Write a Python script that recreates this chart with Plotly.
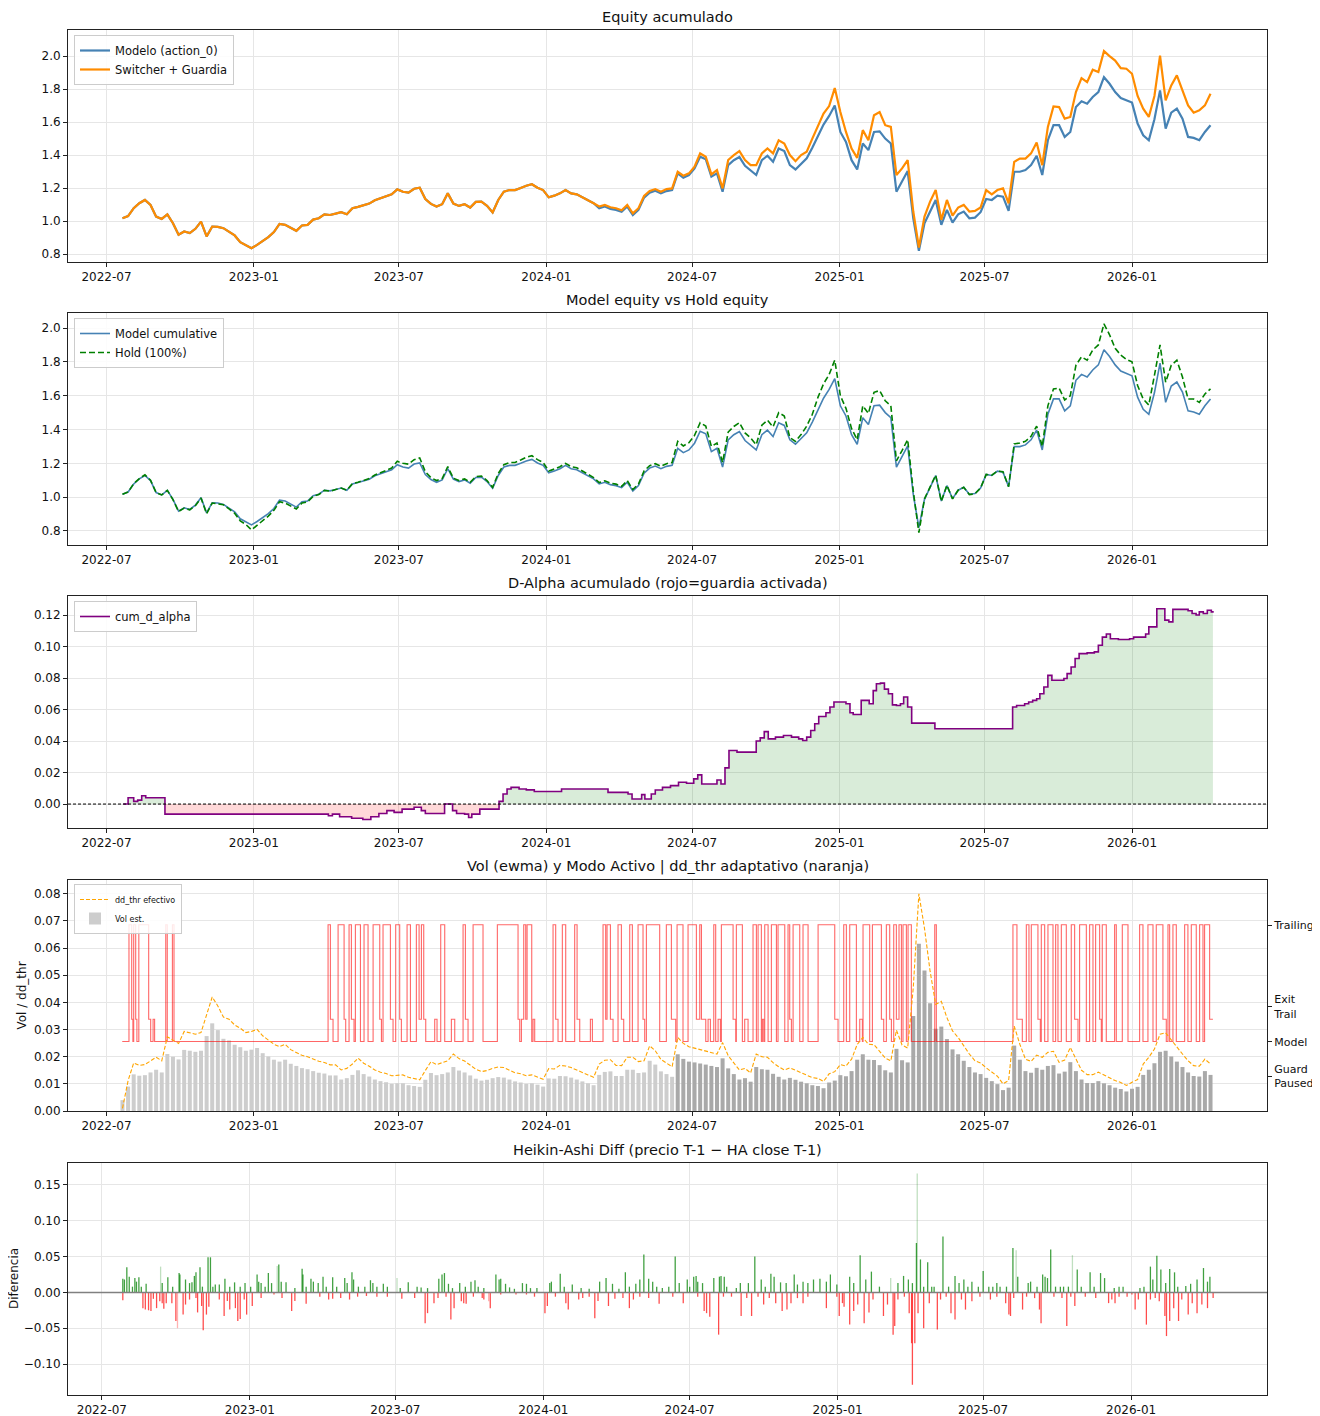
import pandas as pd
import plotly.graph_objects as go

# ---------------- DATA ----------------
EQ_START = "2022-07-21"   # weekly samples
model_eq = [
    1.017, 1.030, 1.078, 1.108, 1.128, 1.098, 1.027, 1.013, 1.040, 0.987,
    0.917, 0.937, 0.927, 0.953, 0.997, 0.907, 0.967, 0.965, 0.957, 0.937,
    0.913, 0.872, 0.856, 0.836, 0.856, 0.880, 0.903, 0.933, 0.983, 0.977,
    0.957, 0.941, 0.973, 0.977, 1.009, 1.017, 1.041, 1.037, 1.045, 1.054,
    1.041, 1.078, 1.086, 1.094, 1.106, 1.126, 1.138, 1.152, 1.162, 1.192,
    1.178, 1.172, 1.196, 1.202, 1.134, 1.104, 1.088, 1.102, 1.168, 1.106,
    1.092, 1.102, 1.082, 1.116, 1.118, 1.092, 1.052, 1.128, 1.178, 1.188,
    1.188, 1.200, 1.214, 1.223, 1.202, 1.188, 1.144, 1.154, 1.168, 1.188,
    1.168, 1.162, 1.144, 1.130, 1.108, 1.078, 1.088, 1.074, 1.068, 1.056,
    1.088, 1.037, 1.068, 1.142, 1.172, 1.184, 1.168, 1.182, 1.188, 1.289,
    1.263, 1.279, 1.319, 1.390, 1.375, 1.269, 1.289, 1.178, 1.339, 1.369,
    1.388, 1.335, 1.309, 1.279, 1.369, 1.396, 1.359, 1.440, 1.424, 1.339,
    1.313, 1.349, 1.380, 1.444, 1.514, 1.585, 1.637, 1.701, 1.540, 1.480,
    1.369, 1.313, 1.470, 1.430, 1.540, 1.544, 1.500, 1.470, 1.178, 1.239,
    1.303, 1.017, 0.820, 0.987, 1.058, 1.128, 0.977, 1.068, 0.991, 1.041,
    1.058, 1.017, 1.021, 1.054, 1.134, 1.128, 1.154, 1.148, 1.062, 1.299,
    1.299, 1.309, 1.339, 1.396, 1.279, 1.490, 1.581, 1.581, 1.510, 1.540,
    1.691, 1.726, 1.711, 1.752, 1.782, 1.872, 1.832, 1.782, 1.746, 1.732,
    1.718, 1.591, 1.520, 1.490, 1.617, 1.792, 1.561, 1.657, 1.681, 1.621,
    1.510, 1.504, 1.490, 1.540, 1.581,
]
switcher_eq = [
    1.017, 1.030, 1.078, 1.108, 1.128, 1.098, 1.027, 1.013, 1.040, 0.987,
    0.917, 0.937, 0.927, 0.953, 0.997, 0.907, 0.967, 0.965, 0.957, 0.937,
    0.913, 0.872, 0.856, 0.836, 0.856, 0.880, 0.903, 0.933, 0.983, 0.977,
    0.957, 0.941, 0.973, 0.977, 1.009, 1.017, 1.041, 1.037, 1.045, 1.054,
    1.041, 1.078, 1.086, 1.094, 1.106, 1.126, 1.138, 1.152, 1.162, 1.192,
    1.178, 1.172, 1.196, 1.202, 1.134, 1.104, 1.088, 1.102, 1.168, 1.106,
    1.092, 1.102, 1.082, 1.116, 1.118, 1.092, 1.052, 1.128, 1.178, 1.188,
    1.188, 1.200, 1.214, 1.223, 1.202, 1.188, 1.144, 1.154, 1.168, 1.188,
    1.168, 1.162, 1.144, 1.130, 1.108, 1.088, 1.098, 1.084, 1.078, 1.066,
    1.098, 1.047, 1.078, 1.152, 1.182, 1.194, 1.178, 1.194, 1.198, 1.299,
    1.275, 1.289, 1.329, 1.410, 1.390, 1.283, 1.309, 1.198, 1.370, 1.400,
    1.424, 1.370, 1.339, 1.339, 1.410, 1.440, 1.410, 1.490, 1.470, 1.400,
    1.363, 1.400, 1.420, 1.500, 1.575, 1.651, 1.697, 1.806, 1.661, 1.540,
    1.440, 1.383, 1.551, 1.490, 1.641, 1.661, 1.581, 1.571, 1.279, 1.319,
    1.369, 1.058, 0.840, 1.027, 1.118, 1.188, 1.007, 1.128, 1.033, 1.082,
    1.098, 1.058, 1.062, 1.082, 1.188, 1.162, 1.188, 1.198, 1.108, 1.359,
    1.379, 1.379, 1.410, 1.476, 1.339, 1.571, 1.695, 1.691, 1.621, 1.631,
    1.782, 1.866, 1.842, 1.917, 1.903, 2.030, 2.000, 1.973, 1.927, 1.923,
    1.893, 1.758, 1.681, 1.631, 1.758, 2.003, 1.732, 1.822, 1.883, 1.792,
    1.701, 1.657, 1.671, 1.701, 1.772,
]
hold_eq = [
    1.017, 1.030, 1.080, 1.110, 1.132, 1.100, 1.027, 1.013, 1.040, 0.985,
    0.915, 0.935, 0.925, 0.950, 0.995, 0.902, 0.965, 0.962, 0.955, 0.930,
    0.905, 0.860, 0.838, 0.806, 0.832, 0.860, 0.888, 0.922, 0.973, 0.965,
    0.945, 0.930, 0.965, 0.972, 1.005, 1.015, 1.040, 1.035, 1.045, 1.054,
    1.041, 1.080, 1.088, 1.097, 1.110, 1.131, 1.145, 1.160, 1.172, 1.212,
    1.200, 1.195, 1.222, 1.232, 1.150, 1.115, 1.098, 1.110, 1.180, 1.112,
    1.098, 1.108, 1.088, 1.122, 1.125, 1.098, 1.058, 1.140, 1.192, 1.205,
    1.205, 1.220, 1.236, 1.245, 1.222, 1.205, 1.155, 1.166, 1.180, 1.200,
    1.180, 1.174, 1.155, 1.140, 1.116, 1.086, 1.097, 1.083, 1.077, 1.064,
    1.098, 1.045, 1.078, 1.155, 1.186, 1.198, 1.183, 1.198, 1.205, 1.330,
    1.303, 1.322, 1.365, 1.440, 1.420, 1.300, 1.320, 1.205, 1.385, 1.418,
    1.440, 1.380, 1.350, 1.310, 1.425, 1.455, 1.415, 1.500, 1.480, 1.352,
    1.330, 1.370, 1.420, 1.490, 1.590, 1.670, 1.725, 1.810, 1.600, 1.525,
    1.405, 1.340, 1.540, 1.495, 1.620, 1.630, 1.570, 1.540, 1.215, 1.275,
    1.340, 1.035, 0.790, 0.990, 1.060, 1.130, 0.975, 1.070, 0.990, 1.041,
    1.058, 1.015, 1.020, 1.054, 1.134, 1.130, 1.154, 1.150, 1.062, 1.315,
    1.320, 1.330, 1.360, 1.420, 1.300, 1.540, 1.640, 1.645, 1.575, 1.600,
    1.780, 1.830, 1.810, 1.870, 1.900, 2.025, 1.960, 1.880, 1.840, 1.815,
    1.800, 1.660, 1.580, 1.545, 1.720, 1.900, 1.680, 1.780, 1.810, 1.710,
    1.580, 1.580, 1.560, 1.610, 1.640,
]
dd_thr = [
    0.0010, 0.0112, 0.0177, 0.0168, 0.0171, 0.0185, 0.0198, 0.0185, 0.0273, 0.0261,
    0.0249, 0.0293, 0.0289, 0.0283, 0.0289, 0.0359, 0.0420, 0.0387, 0.0346, 0.0338,
    0.0317, 0.0305, 0.0289, 0.0293, 0.0301, 0.0277, 0.0261, 0.0246, 0.0237, 0.0246,
    0.0226, 0.0216, 0.0205, 0.0200, 0.0191, 0.0183, 0.0179, 0.0170, 0.0170, 0.0151,
    0.0157, 0.0173, 0.0195, 0.0176, 0.0165, 0.0151, 0.0143, 0.0138, 0.0130, 0.0132,
    0.0133, 0.0124, 0.0120, 0.0115, 0.0149, 0.0182, 0.0171, 0.0177, 0.0185, 0.0210,
    0.0193, 0.0184, 0.0170, 0.0154, 0.0145, 0.0149, 0.0157, 0.0162, 0.0160, 0.0150,
    0.0141, 0.0137, 0.0130, 0.0133, 0.0126, 0.0117, 0.0156, 0.0155, 0.0168, 0.0166,
    0.0160, 0.0150, 0.0141, 0.0133, 0.0124, 0.0173, 0.0187, 0.0189, 0.0168, 0.0167,
    0.0198, 0.0198, 0.0182, 0.0185, 0.0240, 0.0222, 0.0190, 0.0177, 0.0163, 0.0271,
    0.0249, 0.0237, 0.0232, 0.0227, 0.0222, 0.0216, 0.0210, 0.0252, 0.0204, 0.0177,
    0.0151, 0.0157, 0.0140, 0.0210, 0.0200, 0.0198, 0.0178, 0.0163, 0.0151, 0.0159,
    0.0149, 0.0140, 0.0132, 0.0123, 0.0120, 0.0109, 0.0137, 0.0145, 0.0171, 0.0166,
    0.0191, 0.0245, 0.0271, 0.0246, 0.0244, 0.0220, 0.0195, 0.0185, 0.0298, 0.0243,
    0.0232, 0.0454, 0.0800, 0.0673, 0.0515, 0.0393, 0.0404, 0.0344, 0.0295, 0.0271,
    0.0240, 0.0210, 0.0185, 0.0177, 0.0159, 0.0143, 0.0128, 0.0100, 0.0112, 0.0313,
    0.0246, 0.0191, 0.0183, 0.0206, 0.0198, 0.0216, 0.0220, 0.0179, 0.0188, 0.0234,
    0.0191, 0.0150, 0.0134, 0.0134, 0.0143, 0.0132, 0.0124, 0.0112, 0.0105, 0.0094,
    0.0106, 0.0116, 0.0173, 0.0198, 0.0228, 0.0283, 0.0288, 0.0261, 0.0237, 0.0210,
    0.0185, 0.0167, 0.0165, 0.0191, 0.0173,
]
vol_est = [
    0.0040, 0.0090, 0.0135, 0.0130, 0.0132, 0.0142, 0.0152, 0.0142, 0.0210, 0.0200,
    0.0190, 0.0225, 0.0222, 0.0218, 0.0222, 0.0276, 0.0323, 0.0298, 0.0266, 0.0260,
    0.0244, 0.0235, 0.0222, 0.0226, 0.0232, 0.0213, 0.0201, 0.0189, 0.0182, 0.0189,
    0.0174, 0.0166, 0.0158, 0.0154, 0.0147, 0.0141, 0.0138, 0.0131, 0.0131, 0.0116,
    0.0121, 0.0133, 0.0150, 0.0136, 0.0127, 0.0116, 0.0110, 0.0106, 0.0100, 0.0102,
    0.0102, 0.0095, 0.0092, 0.0089, 0.0115, 0.0140, 0.0132, 0.0136, 0.0142, 0.0162,
    0.0149, 0.0142, 0.0131, 0.0119, 0.0112, 0.0115, 0.0121, 0.0125, 0.0123, 0.0116,
    0.0109, 0.0105, 0.0100, 0.0102, 0.0097, 0.0090, 0.0120, 0.0119, 0.0129, 0.0128,
    0.0123, 0.0116, 0.0109, 0.0102, 0.0095, 0.0133, 0.0144, 0.0146, 0.0129, 0.0129,
    0.0152, 0.0152, 0.0140, 0.0142, 0.0185, 0.0171, 0.0146, 0.0136, 0.0126, 0.0209,
    0.0192, 0.0182, 0.0179, 0.0175, 0.0171, 0.0166, 0.0162, 0.0194, 0.0157, 0.0136,
    0.0116, 0.0121, 0.0108, 0.0162, 0.0154, 0.0152, 0.0137, 0.0126, 0.0116, 0.0122,
    0.0115, 0.0108, 0.0102, 0.0095, 0.0092, 0.0084, 0.0105, 0.0112, 0.0132, 0.0128,
    0.0147, 0.0189, 0.0209, 0.0189, 0.0188, 0.0169, 0.0150, 0.0142, 0.0229, 0.0187,
    0.0179, 0.0350, 0.0616, 0.0518, 0.0397, 0.0303, 0.0311, 0.0265, 0.0227, 0.0209,
    0.0185, 0.0162, 0.0142, 0.0136, 0.0122, 0.0110, 0.0099, 0.0077, 0.0086, 0.0241,
    0.0189, 0.0147, 0.0141, 0.0159, 0.0152, 0.0166, 0.0169, 0.0138, 0.0145, 0.0180,
    0.0147, 0.0116, 0.0103, 0.0103, 0.0110, 0.0102, 0.0095, 0.0086, 0.0081, 0.0072,
    0.0082, 0.0089, 0.0133, 0.0152, 0.0176, 0.0218, 0.0222, 0.0201, 0.0182, 0.0162,
    0.0142, 0.0129, 0.0127, 0.0147, 0.0133,
]
VOL_DARK_FROM = 99   # bars from this weekly index are drawn darker

ORIGIN = "2022-07-01"   # day offsets below are counted from here
alpha_pts = [
    (21, 0.0), (27, 0.004), (34, 0.0017), (39, 0.0025), (44, 0.0053), (49, 0.004), (73, -0.0064),
    (272, -0.0064), (277, -0.0074), (282, -0.0064), (291, -0.0081), (306, -0.009), (320, -0.0098),
    (330, -0.0081), (340, -0.006), (350, -0.0042), (359, -0.0053), (369, -0.0032), (384, -0.002),
    (393, -0.0042), (398, -0.006), (422, 0.0), (432, -0.0042), (437, -0.006), (447, -0.0064),
    (452, -0.0085), (456, -0.0064), (466, -0.0032), (486, -0.0032), (490, 0.0017), (495, 0.0064),
    (500, 0.0096), (505, 0.0106), (515, 0.0096), (524, 0.009), (534, 0.008), (568, 0.0096),
    (622, 0.0096), (626, 0.0074), (641, 0.0074), (651, 0.0064), (656, 0.0032), (665, 0.0032),
    (668, 0.006), (672, 0.0032), (680, 0.0064), (685, 0.0089), (694, 0.0106), (704, 0.0117),
    (714, 0.0138), (724, 0.0132), (733, 0.016), (738, 0.0185), (743, 0.0127), (753, 0.0127),
    (762, 0.0153), (767, 0.0127), (772, 0.023), (777, 0.034), (787, 0.033), (809, 0.033),
    (811, 0.040), (816, 0.042), (821, 0.046), (826, 0.0414), (835, 0.0425), (845, 0.0435),
    (855, 0.0425), (864, 0.0414), (869, 0.0404), (874, 0.0425), (879, 0.0467), (884, 0.051),
    (889, 0.0556), (898, 0.058), (903, 0.0616), (908, 0.0648), (923, 0.0637), (928, 0.058),
    (932, 0.0569), (942, 0.0658), (952, 0.0637), (957, 0.072), (961, 0.0764), (966, 0.0768),
    (971, 0.073), (976, 0.070), (981, 0.063), (986, 0.0626), (991, 0.0637), (995, 0.068),
    (1000, 0.0616), (1005, 0.0514), (1034, 0.0478), (1131, 0.0616), (1136, 0.0626), (1146, 0.0637),
    (1151, 0.0648), (1156, 0.0658), (1161, 0.0669), (1165, 0.070), (1170, 0.0743), (1175, 0.0817),
    (1180, 0.0786), (1195, 0.0797), (1199, 0.0828), (1204, 0.087), (1209, 0.0924), (1214, 0.0955),
    (1224, 0.096), (1233, 0.0966), (1238, 0.1008), (1243, 0.106), (1248, 0.108), (1253, 0.105),
    (1263, 0.1045), (1277, 0.105), (1282, 0.106), (1297, 0.108), (1301, 0.1125), (1311, 0.124),
    (1316, 0.124), (1321, 0.1168), (1326, 0.1157), (1331, 0.1236), (1340, 0.1236), (1350, 0.1227),
    (1355, 0.121), (1360, 0.12), (1364, 0.122), (1369, 0.121), (1374, 0.1231), (1379, 0.122),
    (1381, 0.1215),
]

# active mode runs: (start day, mode) ; M=Model, E=Exit Trail, T=Trailing
mode_runs = [
    (19.7, "M"), (28.1, "T"), (31.5, "E"), (33.0, "M"), (34.0, "T"), (36.5, "E"), (38.0, "M"),
    (40.4, "T"), (52.7, "E"), (55.2, "M"), (58.2, "E"), (60.1, "M"), (74.0, "T"), (75.9, "M"),
    (82.3, "T"), (84.3, "M"),
    (276.6, "T"), (279.5, "E"), (282.8, "M"), (289.1, "T"), (296.6, "E"), (298.6, "M"), (302.8, "T"),
    (305.7, "E"), (309.0, "M"), (310.7, "T"), (317.0, "M"), (321.5, "T"), (326.5, "M"), (332.8, "T"),
    (341.1, "E"), (343.2, "M"), (345.2, "T"), (354.4, "E"), (357.7, "M"), (361.0, "T"), (366.0, "E"),
    (368.1, "M"), (375.2, "T"), (379.4, "M"), (386.8, "T"), (390.2, "E"), (393.1, "T"), (396.0, "E"),
    (398.5, "M"), (409.7, "E"), (412.6, "M"), (417.2, "T"), (422.2, "M"), (430.5, "E"), (434.7, "M"),
    (445.1, "T"), (448.0, "E"), (451.3, "M"), (457.6, "T"), (470.0, "M"), (487.9, "T"), (513.7, "E"),
    (515.8, "M"), (517.9, "E"), (520.8, "T"), (523.3, "E"), (525.0, "T"), (530.8, "M"), (532.4, "E"),
    (534.5, "M"), (557.4, "T"), (560.7, "E"), (563.6, "M"), (569.0, "T"), (573.2, "M"), (584.4, "T"),
    (587.4, "E"), (590.7, "M"), (604.0, "E"), (606.5, "M"), (619.8, "T"), (623.1, "E"), (624.8, "T"),
    (629.0, "E"), (632.3, "M"), (638.5, "T"), (642.7, "E"), (645.6, "M"), (653.1, "T"), (656.4, "M"),
    (663.5, "T"), (669.7, "E"), (671.8, "M"), (673.9, "T"), (690.5, "M"), (698.8, "T"), (705.1, "E"),
    (710.5, "M"), (712.2, "T"), (719.6, "M"), (725.9, "T"),
    (736.3, "E"), (740.5, "T"), (742.6, "E"), (748.0, "M"), (750.9, "E"), (753.8, "M"), (758.0, "T"),
    (760.4, "M"), (763.4, "E"), (766.3, "M"), (767.5, "T"), (782.1, "E"), (785.4, "M"), (786.2, "T"),
    (793.7, "M"), (796.6, "E"), (800.8, "M"), (807.0, "T"), (811.2, "M"), (813.3, "T"), (817.4, "M"),
    (818.7, "E"), (820.4, "M"), (821.6, "T"), (825.8, "M"), (829.9, "T"), (836.2, "M"), (838.2, "T"),
    (846.6, "M"), (850.7, "T"), (852.8, "E"), (854.9, "M"), (857.0, "T"), (865.3, "M"), (869.4, "T"),
    (875.7, "M"), (888.2, "T"), (909.0, "E"), (913.1, "M"), (920.2, "T"), (923.5, "M"), (927.7, "T"),
    (936.0, "M"), (940.2, "E"), (943.5, "M"), (944.3, "T"), (952.6, "M"), (956.0, "T"), (967.2, "E"),
    (970.1, "M"), (973.4, "T"), (977.6, "E"), (979.7, "M"), (982.6, "T"), (985.9, "E"), (989.2, "T"),
    (992.2, "M"), (994.2, "T"), (998.4, "M"), (1000.5, "T"), (1004.6, "M"), (1033.8, "T"), (1035.8, "M"),
    (1131.4, "T"), (1136.4, "E"), (1143.1, "M"), (1148.1, "T"), (1151.4, "M"), (1154.3, "T"),
    (1162.6, "E"), (1165.6, "M"), (1166.8, "T"), (1171.0, "M"), (1175.1, "T"), (1181.4, "M"),
    (1184.7, "T"), (1187.6, "M"), (1191.8, "T"), (1198.0, "M"), (1204.2, "T"), (1208.4, "E"),
    (1212.6, "M"), (1214.6, "T"), (1223.0, "M"), (1227.1, "T"), (1231.3, "M"), (1234.6, "T"),
    (1239.6, "E"), (1241.7, "M"), (1242.9, "T"), (1247.9, "M"), (1258.3, "T"), (1260.4, "M"),
    (1267.9, "T"), (1275.0, "M"), (1289.5, "T"), (1293.7, "M"), (1299.9, "T"), (1306.2, "M"),
    (1310.3, "T"), (1318.6, "E"), (1322.8, "M"), (1324.9, "T"), (1327.0, "M"), (1331.1, "T"),
    (1335.3, "M"), (1345.7, "T"), (1349.8, "M"), (1354.0, "T"), (1360.2, "M"), (1364.4, "T"),
    (1368.6, "M"), (1370.6, "T"), (1376.9, "E"), (1381.0, "E"),
]
MODE_LEVEL = {"M": 0.0256, "E": 0.0338, "T": 0.0686}
mode_tick_vals = [0.0128, 0.0255, 0.0384, 0.0683]
mode_tick_text = ["Guard<br>Paused", "Model", "Exit<br>Trail", "Trailing"]

ha_pos = [
    (26, .019), (28, .018), (31, .035), (34, .022), (38, .008), (41, .020), (43, .015), (46, .021),
    (49, .008), (55, .012), (75, .013), (82, .021), (88, .008), (96, .027), (97, .025), (104, .018),
    (109, .013), (112, .014), (115, .023), (117, .028), (122, .035), (125, .008), (132, .049),
    (135, .049), (138, .008), (141, .011), (146, .011), (153, .019), (159, .008), (165, .014),
    (172, .008), (178, .013), (185, .008), (193, .025), (195, .015), (198, .013), (203, .008),
    (207, .027), (211, .013), (220, .039), (223, .015), (229, .014), (240, .006), (249, .033),
    (250, .025), (254, .008), (260, .019), (263, .015), (269, .013), (275, .022), (279, .008),
    (287, .021), (292, .008), (302, .020), (305, .013), (311, .028), (313, .018), (319, .008),
    (327, .008), (334, .017), (337, .013), (342, .008), (350, .012), (355, .008), (371, .006),
    (381, .014), (392, .008), (397, .007), (405, .006), (419, .019), (423, .025), (426, .027),
    (431, .012), (436, .006), (445, .013), (452, .008), (459, .015), (464, .017), (468, .008),
    (475, .006), (490, .025), (494, .018), (496, .019), (502, .012), (507, .007), (513, .005),
    (523, .013), (528, .012), (533, .006), (541, .006), (557, .013), (559, .015), (570, .026),
    (575, .008), (585, .011), (596, .006), (606, .005), (619, .015), (627, .020), (635, .012),
    (643, .005), (651, .028), (656, .008), (664, .012), (669, .018), (674, .053), (680, .019),
    (685, .015), (690, .008), (697, .006), (705, .008), (713, .050), (718, .013), (728, .018),
    (731, .008), (736, .022), (739, .023), (741, .015), (747, .013), (761, .020), (768, .022),
    (770, .023), (774, .022), (777, .008), (789, .006), (794, .013), (804, .013), (812, .050),
    (820, .018), (825, .008), (832, .026), (836, .022), (844, .014), (851, .013), (861, .025),
    (865, .011), (872, .015), (878, .013), (885, .018), (893, .019), (901, .015), (906, .025),
    (914, .011), (930, .022), (935, .013), (943, .052), (950, .018), (957, .029), (967, .008),
    (990, .013), (997, .023), (1003, .018), (1008, .013), (1013, .069), (1018, .046), (1022, .008),
    (1027, .042), (1032, .008), (1035, .008), (1046, .078), (1053, .008), (1061, .023), (1066, .013),
    (1072, .018), (1077, .008), (1082, .015), (1090, .008), (1096, .030), (1103, .008), (1108, .008),
    (1113, .013), (1117, .008), (1125, .008), (1133, .062), (1139, .022), (1152, .013), (1155, .015),
    (1163, .008), (1170, .025), (1173, .022), (1176, .020), (1180, .060), (1186, .008), (1192, .008),
    (1196, .008), (1202, .008), (1213, .032), (1218, .008), (1229, .028), (1234, .008), (1242, .027),
    (1247, .020), (1259, .006), (1265, .008), (1270, .008), (1291, .006), (1296, .008), (1304, .036),
    (1307, .018), (1312, .051), (1317, .032), (1323, .013), (1328, .0325), (1334, .028), (1338, .008),
    (1348, .009), (1354, .012), (1362, .018), (1370, .034), (1375, .015), (1378, .022),
]
ha_neg = [
    (26, -.011), (51, -.022), (54, -.024), (58, -.025), (61, -.026), (64, -.009), (68, -.022),
    (72, -.0125), (75, -.015), (77, -.023), (80, -.015), (87, -.015), (92, -.040), (101, -.031),
    (104, -.017), (109, -.010), (117, -.008), (119, -.028), (124, -.019), (126, -.053), (130, -.031),
    (133, -.020), (146, -.010), (152, -.033), (156, -.012), (159, -.024), (166, -.022), (169, -.040),
    (172, -.037), (177, -.010), (180, -.031), (187, -.019), (198, -.008), (214, -.003), (224, -.008),
    (236, -.026), (240, -.012), (254, -.016), (271, -.006), (282, -.010), (287, -.009), (297, -.008),
    (308, -.010), (318, -.006), (329, -.005), (342, -.006), (355, -.006), (373, -.009), (389, -.008),
    (402, -.043), (405, -.029), (413, -.015), (418, -.008), (428, -.006), (434, -.038), (438, -.022),
    (447, -.0125), (450, -.015), (453, -.016), (462, -.006), (473, -.008), (475, -.010), (483, -.022),
    (496, -.003), (515, -.003), (528, -.003), (538, -.006), (551, -.029), (554, -.019), (564, -.006),
    (577, -.015), (580, -.024), (593, -.010), (598, -.008), (606, -.006), (613, -.036), (617, -.012),
    (630, -.019), (638, -.009), (648, -.008), (656, -.022), (661, -.010), (669, -.006), (680, -.008),
    (693, -.016), (710, -.006), (723, -.015), (741, -.006), (749, -.026), (752, -.029), (756, -.034),
    (767, -.059), (773, -.006), (783, -.006), (795, -.033), (802, -.008), (808, -.033), (816, -.006),
    (823, -.017), (830, -.008), (838, -.015), (846, -.026), (852, -.024), (857, -.015), (865, -.008),
    (872, -.015), (878, -.006), (901, -.022), (914, -.006), (917, -.033), (921, -.015), (923, -.020),
    (930, -.045), (935, -.026), (940, -.017), (948, -.043), (954, -.028), (959, -.010), (972, -.033),
    (977, -.017), (984, -.059), (986, -.047), (990, -.010), (998, -.006), (1004, -.029), (1007, -.071),
    (1008, -.129), (1011, -.071), (1015, -.029), (1022, -.050), (1029, -.015), (1039, -.052),
    (1043, -.010), (1050, -.006), (1056, -.029), (1061, -.038), (1069, -.010), (1074, -.024),
    (1082, -.0125), (1092, -.006), (1105, -.010), (1113, -.006), (1124, -.015), (1128, -.031),
    (1130, -.033), (1134, -.008), (1145, -.024), (1150, -.006), (1160, -.008), (1166, -.024),
    (1168, -.043), (1184, -.006), (1194, -.008), (1200, -.047), (1205, -.006), (1210, -.019),
    (1223, -.006), (1236, -.008), (1252, -.015), (1256, -.010), (1260, -.015), (1265, -.006),
    (1275, -.006), (1281, -.003), (1285, -.024), (1289, -.010), (1299, -.045), (1304, -.010),
    (1310, -.008), (1315, -.0125), (1322, -.033), (1324, -.061), (1328, -.040), (1333, -.022),
    (1339, -.040), (1343, -.010), (1351, -.031), (1356, -.015), (1362, -.029), (1368, -.017),
    (1375, -.022), (1382, -.008),
]
ha_faint = [
    (73, .036), (218, .037), (367, .020), (981, .020), (1014, .166), (1137, .059), (1207, .052),
    (94, -.050), (481, -.0125),
]

TITLES = [
    "Equity acumulado",
    "Model equity vs Hold equity",
    "D-Alpha acumulado (rojo=guardia activada)",
    "Vol (ewma) y Modo Activo | dd_thr adaptativo (naranja)",
    "Heikin-Ashi Diff (precio T-1 \u2212 HA close T-1)",
]
Y_TITLES = {3: "Vol / dd_thr", 4: "Diferencia"}

# ---------------- HELPERS ----------------
origin = pd.Timestamp(ORIGIN)
eq_dates = pd.date_range(EQ_START, periods=len(model_eq), freq="7D")


def to_dates(days):
    return [origin + pd.Timedelta(days=float(d)) for d in days]


DAY_MS = 86400000
FONT = "DejaVu Sans"

fig = go.Figure()

# ---- Panel 1 ----
fig.add_trace(go.Scatter(x=eq_dates, y=model_eq, mode="lines", name="Modelo (action_0)",
                         line=dict(color="#4682B4", width=2.2), xaxis="x", yaxis="y", legend="legend"))
fig.add_trace(go.Scatter(x=eq_dates, y=switcher_eq, mode="lines", name="Switcher + Guardia",
                         line=dict(color="#FF8C00", width=2.2), xaxis="x", yaxis="y", legend="legend"))

# ---- Panel 2 ----
fig.add_trace(go.Scatter(x=eq_dates, y=model_eq, mode="lines", name="Model cumulative",
                         line=dict(color="#4682B4", width=1.6), xaxis="x2", yaxis="y2", legend="legend2"))
fig.add_trace(go.Scatter(x=eq_dates, y=hold_eq, mode="lines", name="Hold (100%)",
                         line=dict(color="#008000", width=1.6, dash="6px,3px"), xaxis="x2", yaxis="y2",
                         legend="legend2"))

# ---- Panel 3 ----
a_days = [p[0] for p in alpha_pts]
a_vals = [p[1] for p in alpha_pts]
a_dates = to_dates(a_days)
fig.add_trace(go.Scatter(x=a_dates, y=[max(v, 0) for v in a_vals], mode="lines", line_shape="hv",
                         line=dict(width=0), fill="tozeroy", fillcolor="rgba(0,128,0,0.15)",
                         showlegend=False, hoverinfo="skip", xaxis="x3", yaxis="y3"))
fig.add_trace(go.Scatter(x=a_dates, y=[min(v, 0) for v in a_vals], mode="lines", line_shape="hv",
                         line=dict(width=0), fill="tozeroy", fillcolor="rgba(255,0,0,0.15)",
                         showlegend=False, hoverinfo="skip", xaxis="x3", yaxis="y3"))
fig.add_trace(go.Scatter(x=a_dates, y=a_vals, mode="lines", line_shape="hv", name="cum_d_alpha",
                         line=dict(color="#800080", width=1.6), xaxis="x3", yaxis="y3", legend="legend3"))

# ---- Panel 4 ----
fig.add_trace(go.Bar(x=eq_dates[:VOL_DARK_FROM], y=vol_est[:VOL_DARK_FROM], name="Vol est.",
                     marker=dict(color="#cdcdcd", line=dict(width=0)), width=5 * DAY_MS,
                     xaxis="x4", yaxis="y4", legend="legend4", legendrank=2))
fig.add_trace(go.Bar(x=eq_dates[VOL_DARK_FROM:], y=vol_est[VOL_DARK_FROM:], name="Vol est.",
                     marker=dict(color="#a9a9a9", line=dict(width=0)), width=5 * DAY_MS,
                     showlegend=False, xaxis="x4", yaxis="y4", legend="legend4"))
m_dates = to_dates([r[0] for r in mode_runs])
m_vals = [MODE_LEVEL[r[1]] for r in mode_runs]
fig.add_trace(go.Scatter(x=m_dates, y=m_vals, mode="lines", line_shape="hv", showlegend=False,
                         line=dict(color="rgba(255,0,0,0.6)", width=1.1), xaxis="x4", yaxis="y4"))
fig.add_trace(go.Scatter(x=eq_dates, y=dd_thr, mode="lines", name="dd_thr efectivo",
                         line=dict(color="#FFA500", width=1.1, dash="4px,2px"), xaxis="x4", yaxis="y4",
                         legend="legend4", legendrank=1))
fig.add_trace(go.Scatter(x=[eq_dates[0]], y=[mode_tick_vals[1]], mode="markers",
                         marker=dict(opacity=0), showlegend=False, hoverinfo="skip",
                         xaxis="x4", yaxis="y6"))

# ---- Panel 5 ----
fig.add_trace(go.Bar(x=to_dates([p[0] for p in ha_pos]), y=[p[1] for p in ha_pos],
                     marker=dict(color="rgba(0,128,0,0.75)", line=dict(width=0)), width=1.6 * DAY_MS,
                     showlegend=False, xaxis="x5", yaxis="y5"))
fig.add_trace(go.Bar(x=to_dates([p[0] for p in ha_neg]), y=[p[1] for p in ha_neg],
                     marker=dict(color="rgba(255,0,0,0.7)", line=dict(width=0)), width=1.6 * DAY_MS,
                     showlegend=False, xaxis="x5", yaxis="y5"))
fig.add_trace(go.Bar(x=to_dates([p[0] for p in ha_faint]), y=[p[1] for p in ha_faint],
                     marker=dict(color=["rgba(0,128,0,0.25)" if p[1] > 0 else "rgba(255,0,0,0.3)"
                                        for p in ha_faint], line=dict(width=0)),
                     width=1.6 * DAY_MS, showlegend=False, xaxis="x5", yaxis="y5"))

# ---------------- LAYOUT ----------------
# the page adds an 8px body margin, so the figure is 8px smaller with margins shifted accordingly
TOTAL_H = 1365.0
PLOT_W = 1199.0
panels_px = [(0, 232), (283, 515), (566, 798), (850, 1081), (1133, 1365)]
domains = [[1 - b / TOTAL_H, 1 - a / TOTAL_H] for a, b in panels_px]

GRID = "#e6e6e6"
LINE = "#222222"
tickfont = dict(family=FONT, size=12, color="#111")

xrange_main = ["2022-05-14", "2026-06-18 12:00"]
xrange_ha = ["2022-05-19 20:00", "2026-06-19"]


def xaxis(anchor, rng):
    return dict(type="date", range=rng, anchor=anchor, domain=[0, 1], tickformat="%Y-%m",
                dtick="M6", tick0="2022-07-01", showgrid=True, gridcolor=GRID, gridwidth=1,
                showline=True, mirror=True, linecolor=LINE, linewidth=1, ticks="outside",
                ticklen=4, tickcolor=LINE, tickfont=tickfont, zeroline=False, automargin=False)


def yaxis(anchor, dom, rng, dtick, fmt):
    return dict(anchor=anchor, domain=dom, range=rng, dtick=dtick, tick0=0, tickformat=fmt,
                showgrid=True, gridcolor=GRID, gridwidth=1, showline=True, mirror=True,
                linecolor=LINE, linewidth=1, ticks="outside", ticklen=4, tickcolor=LINE,
                tickfont=tickfont, zeroline=False, automargin=False)


layout = dict(
    width=1312, height=1408,
    margin=dict(l=60, r=53, t=22, b=21, autoexpand=False),
    paper_bgcolor="white", plot_bgcolor="white",
    font=dict(family=FONT, size=12, color="#111"),
    barmode="overlay",
    xaxis=xaxis("y", xrange_main),
    xaxis2=xaxis("y2", xrange_main),
    xaxis3=xaxis("y3", xrange_main),
    xaxis4=xaxis("y4", xrange_main),
    xaxis5=xaxis("y5", xrange_ha),
    yaxis=yaxis("x", domains[0], [0.752, 2.158], 0.2, ".1f"),
    yaxis2=yaxis("x2", domains[1], [0.717, 2.089], 0.2, ".1f"),
    yaxis3=yaxis("x3", domains[2], [-0.0152, 0.1321], 0.02, ".2f"),
    yaxis4=yaxis("x4", domains[3], [0, 0.0851], 0.01, ".2f"),
    yaxis5=yaxis("x5", domains[4], [-0.1433, 0.1807], 0.05, ".2f"),
    yaxis6=dict(overlaying="y4", anchor="x4", side="right", range=[0, 0.0851],
                tickvals=mode_tick_vals, ticktext=mode_tick_text, showgrid=False,
                zeroline=False, showline=False, ticks="outside", ticklen=4, tickcolor=LINE,
                tickfont=dict(family=FONT, size=11, color="#111"), automargin=False),
    showlegend=True,
)

legend_common = dict(xref="paper", yref="paper", x=0.005, xanchor="left", yanchor="top",
                     bgcolor="rgba(255,255,255,0.85)", bordercolor="#cccccc", borderwidth=1,
                     itemwidth=30, tracegroupgap=0)
legend_tops = [5, 288, 571, 854]
for i, top in enumerate(legend_tops):
    key = "legend" if i == 0 else f"legend{i + 1}"
    lg = dict(legend_common)
    lg["y"] = 1 - top / TOTAL_H
    lg["font"] = dict(family=FONT, size=11.5 if i < 3 else 8, color="#111")
    layout[key] = lg

annotations = []
for title, dom in zip(TITLES, domains):
    annotations.append(dict(text=title, xref="paper", yref="paper", x=0.5, y=dom[1],
                            xanchor="center", yanchor="bottom", yshift=3, showarrow=False,
                            font=dict(family=FONT, size=14.5, color="#111")))
# y-axis titles (left of tick labels)
y_title_x = {3: 14.0, 4: 6.0}   # px from figure left edge
for idx, txt in Y_TITLES.items():
    dom = domains[idx]
    annotations.append(dict(text=txt, xref="paper", yref="paper",
                            x=(y_title_x[idx] - 60) / PLOT_W, y=(dom[0] + dom[1]) / 2,
                            xanchor="center", yanchor="middle", textangle=-90, showarrow=False,
                            font=dict(family=FONT, size=12, color="#111")))
layout["annotations"] = annotations

layout["shapes"] = [
    dict(type="line", xref="x3 domain", yref="y3", x0=0, x1=1, y0=0, y1=0,
         line=dict(color="black", width=1, dash="3px,2px")),
    dict(type="line", xref="x5 domain", yref="y5", x0=0, x1=1, y0=0, y1=0,
         line=dict(color="#808080", width=1.5)),
]

fig.update_layout(**layout)
fig.write_html("out.html")
